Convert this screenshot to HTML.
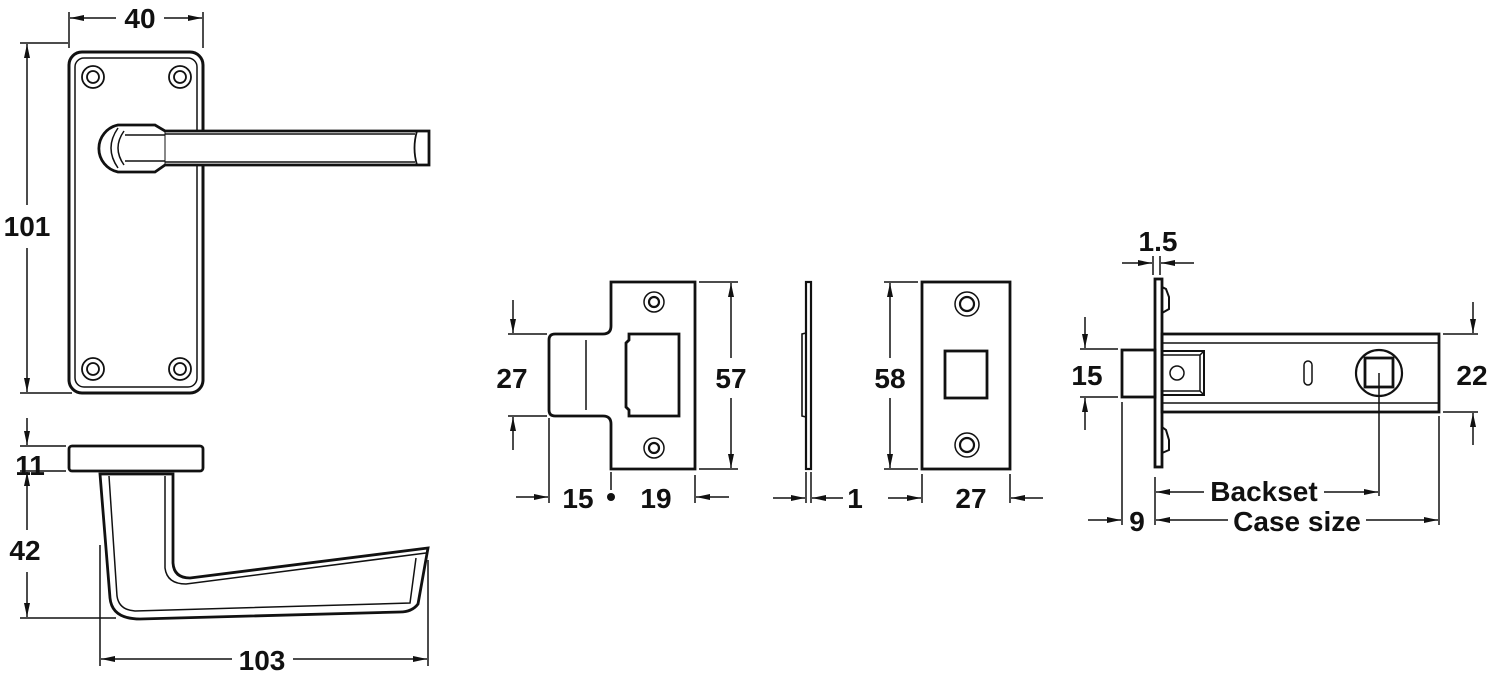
<!DOCTYPE html>
<html><head><meta charset="utf-8"><style>
html,body{margin:0;padding:0;background:#fff;}
svg{display:block;}
text{font-family:"Liberation Sans",Arial,sans-serif;font-weight:bold;font-size:28px;fill:#111;text-anchor:middle;}
</style></head><body>
<svg width="1488" height="678" viewBox="0 0 1488 678" xmlns="http://www.w3.org/2000/svg">
<defs>
<marker id="a" viewBox="0 0 14 6" refX="14" refY="3" markerWidth="14" markerHeight="6" markerUnits="userSpaceOnUse" orient="auto"><path d="M0,0 L14,3 L0,6 Z" fill="#111"/></marker>
</defs>
<g stroke="#111" fill="none" stroke-width="1.5">
<!-- ===== handle front ===== -->
<rect x="69" y="52" width="134" height="341" rx="13" stroke-width="3" fill="#fff"/>
<rect x="75" y="58" width="122" height="329" rx="9" stroke-width="1.5"/>
<g stroke-width="1.8">
<circle cx="93" cy="77" r="11"/><circle cx="93" cy="77" r="6"/>
<circle cx="180" cy="77" r="11"/><circle cx="180" cy="77" r="6"/>
<circle cx="93" cy="369" r="11"/><circle cx="93" cy="369" r="6"/>
<circle cx="180" cy="369" r="11"/><circle cx="180" cy="369" r="6"/>
</g>
<path d="M118,125 L155,125 L165,131 L429,131 L429,165 L165,165 L155,172 L118,172 A24,24 0 0 1 118,125 Z" fill="#fff" stroke-width="2.8"/>
<path d="M165,131 L165,165" stroke-width="1"/>
<path d="M125,135 L165,135 M125,161 L165,161" />
<path d="M124,131 Q112,148 124,165 M118,128 Q104,148 118,168"/>
<path d="M165,134 L415,134 M165,162 L415,162"/>
<path d="M417,131 Q412,148 417,165" stroke-width="1.8"/>
<!-- dims 40 / 101 -->
<line x1="69" y1="12" x2="69" y2="48"/><line x1="203" y1="12" x2="203" y2="48"/>
<line x1="116" y1="18" x2="70" y2="18" marker-end="url(#a)"/>
<line x1="164" y1="18" x2="202" y2="18" marker-end="url(#a)"/>
<line x1="20" y1="43" x2="68" y2="43"/><line x1="20" y1="393" x2="72" y2="393"/>
<line x1="27" y1="205" x2="27" y2="44" marker-end="url(#a)"/>
<line x1="27" y1="248" x2="27" y2="392" marker-end="url(#a)"/>
<!-- ===== handle side ===== -->
<rect x="69" y="446" width="134" height="25" rx="3" stroke-width="2.8"/>
<path d="M100,474 L173,474 L173,563 Q174,578 190,578 L428,548 L418,604 Q412,612 400,612 L140,619 Q112,619 110,598 Z" stroke-width="2.8"/>
<path d="M109,476 L117,596 Q119,610 135,611 L410,603 L416,558 M165,476 L165,568 Q167,584 186,584 L426,553"/>
<line x1="20" y1="446" x2="66" y2="446"/><line x1="20" y1="471" x2="66" y2="471"/>
<line x1="27" y1="418" x2="27" y2="445" marker-end="url(#a)"/>
<line x1="27" y1="530" x2="27" y2="472" marker-end="url(#a)"/>
<line x1="27" y1="572" x2="27" y2="617" marker-end="url(#a)"/>
<line x1="20" y1="618" x2="116" y2="618"/>
<line x1="100" y1="545" x2="100" y2="666"/><line x1="428" y1="560" x2="428" y2="666"/>
<line x1="232" y1="659" x2="101" y2="659" marker-end="url(#a)"/>
<line x1="293" y1="659" x2="427" y2="659" marker-end="url(#a)"/>
<!-- ===== strike plate ===== -->
<path d="M611,282 L695,282 L695,469 L611,469 L611,424 Q611,416 603,416 L555,416 Q549,416 549,410 L549,340 Q549,334 555,334 L603,334 Q611,334 611,326 Z" stroke-width="2.8"/>
<line x1="586" y1="340" x2="586" y2="410"/>
<path d="M629,334 L679,334 L679,416 L629,416 L629,410 L626,407 L626,343 L629,340 Z" stroke-width="2.8"/>
<circle cx="654" cy="302" r="10"/><circle cx="654" cy="302" r="5" stroke-width="2.2"/>
<circle cx="654" cy="448" r="10"/><circle cx="654" cy="448" r="5" stroke-width="2.2"/>
<line x1="699" y1="282" x2="738" y2="282"/><line x1="699" y1="469" x2="738" y2="469"/>
<line x1="731" y1="358" x2="731" y2="283" marker-end="url(#a)"/>
<line x1="731" y1="398" x2="731" y2="468" marker-end="url(#a)"/>
<line x1="508" y1="334" x2="547" y2="334"/><line x1="508" y1="416" x2="547" y2="416"/>
<line x1="513" y1="300" x2="513" y2="333" marker-end="url(#a)"/>
<line x1="513" y1="450" x2="513" y2="417" marker-end="url(#a)"/>
<line x1="549" y1="418" x2="549" y2="503"/><line x1="611" y1="472" x2="611" y2="490"/>
<line x1="695" y1="475" x2="695" y2="503"/>
<line x1="516" y1="497" x2="548" y2="497" marker-end="url(#a)"/>
<line x1="729" y1="497" x2="696" y2="497" marker-end="url(#a)"/>
<!-- edge plate -->
<rect x="806" y="282" width="5" height="187" stroke-width="2.2"/>
<path d="M806,333 L802,334 L802,416 L806,417" stroke-width="1.6"/>
<line x1="806" y1="472" x2="806" y2="503"/><line x1="811" y1="472" x2="811" y2="503"/>
<line x1="773" y1="498" x2="805" y2="498" marker-end="url(#a)"/>
<line x1="843" y1="498" x2="812" y2="498" marker-end="url(#a)"/>
<!-- flat plate -->
<rect x="922" y="282" width="88" height="187" stroke-width="2.8"/>
<rect x="945" y="351" width="42" height="47" stroke-width="2.8"/>
<circle cx="967" cy="304" r="12"/><circle cx="967" cy="304" r="7" stroke-width="2.2"/>
<circle cx="967" cy="445" r="12"/><circle cx="967" cy="445" r="7" stroke-width="2.2"/>
<line x1="884" y1="282" x2="918" y2="282"/><line x1="884" y1="469" x2="918" y2="469"/>
<line x1="890" y1="358" x2="890" y2="283" marker-end="url(#a)"/>
<line x1="890" y1="398" x2="890" y2="468" marker-end="url(#a)"/>
<line x1="922" y1="474" x2="922" y2="503"/><line x1="1010" y1="474" x2="1010" y2="503"/>
<line x1="888" y1="498" x2="921" y2="498" marker-end="url(#a)"/>
<line x1="1043" y1="498" x2="1011" y2="498" marker-end="url(#a)"/>
<!-- ===== latch ===== -->
<rect x="1155" y="279" width="7" height="188" stroke-width="2.8"/>
<path d="M1162,287 L1166,289 L1169,297 L1169,309 L1162,313 M1162,427 L1166,430 L1169,440 L1169,450 L1162,453" stroke-width="2"/>
<rect x="1162" y="334" width="277" height="78" stroke-width="2.8"/>
<line x1="1162" y1="343" x2="1439" y2="343"/><line x1="1162" y1="403" x2="1439" y2="403"/>
<rect x="1122" y="350" width="33" height="47" stroke-width="2.8"/>
<rect x="1162" y="351" width="42" height="44" stroke-width="2"/>
<path d="M1162,355 L1200,355 L1200,391 L1162,391 M1200,355 L1204,351 M1200,391 L1204,395"/>
<circle cx="1177" cy="373" r="7"/>
<rect x="1304" y="361" width="8" height="24" rx="4"/>
<circle cx="1379" cy="373" r="23" stroke-width="2.2"/>
<rect x="1365" y="358" width="28" height="29" stroke-width="2.8"/>
<line x1="1379" y1="373" x2="1379" y2="496"/>
<!-- latch dims -->
<line x1="1153" y1="256" x2="1153" y2="275"/><line x1="1160" y1="256" x2="1160" y2="275"/>
<line x1="1122" y1="263" x2="1152" y2="263" marker-end="url(#a)"/>
<line x1="1194" y1="263" x2="1161" y2="263" marker-end="url(#a)"/>
<line x1="1080" y1="349" x2="1118" y2="349"/><line x1="1080" y1="397" x2="1118" y2="397"/>
<line x1="1085" y1="317" x2="1085" y2="348" marker-end="url(#a)"/>
<line x1="1085" y1="430" x2="1085" y2="398" marker-end="url(#a)"/>
<line x1="1443" y1="334" x2="1478" y2="334"/><line x1="1443" y1="412" x2="1478" y2="412"/>
<line x1="1473" y1="302" x2="1473" y2="333" marker-end="url(#a)"/>
<line x1="1473" y1="445" x2="1473" y2="413" marker-end="url(#a)"/>
<line x1="1122" y1="402" x2="1122" y2="525"/><line x1="1155" y1="477" x2="1155" y2="525"/>
<line x1="1439" y1="416" x2="1439" y2="525"/>
<line x1="1204" y1="492" x2="1156" y2="492" marker-end="url(#a)"/>
<line x1="1324" y1="492" x2="1378" y2="492" marker-end="url(#a)"/>
<line x1="1088" y1="520" x2="1121" y2="520" marker-end="url(#a)"/>
<line x1="1228" y1="520" x2="1156" y2="520" marker-end="url(#a)"/>
<line x1="1366" y1="520" x2="1438" y2="520" marker-end="url(#a)"/>
</g>
<circle cx="611" cy="497" r="4" fill="#111"/>
<text x="140" y="28">40</text>
<text x="27" y="236">101</text>
<text x="30" y="475">11</text>
<text x="25" y="560">42</text>
<text x="262" y="670">103</text>
<text x="512" y="388">27</text>
<text x="731" y="388">57</text>
<text x="578" y="508">15</text>
<text x="656" y="508">19</text>
<text x="855" y="508">1</text>
<text x="890" y="388">58</text>
<text x="971" y="508">27</text>
<text x="1158" y="251">1.5</text>
<text x="1087" y="385">15</text>
<text x="1472" y="385">22</text>
<text x="1264" y="501">Backset</text>
<text x="1137" y="531">9</text>
<text x="1297" y="531">Case size</text>
</svg>
</body></html>
